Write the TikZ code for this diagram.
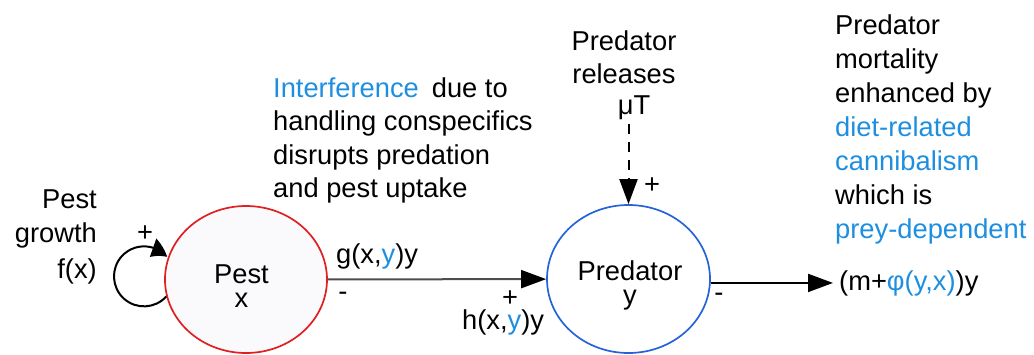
\documentclass[tikz,border=0pt]{standalone}
\usepackage{fontspec}
\setmainfont{Liberation Sans}
\usetikzlibrary{arrows.meta,shapes.geometric,bending}
\definecolor{tblue}{HTML}{1E8FE0}
\definecolor{predblue}{HTML}{2563D8}
\definecolor{pestred}{HTML}{E02020}
\definecolor{linegray}{HTML}{4D4D4D}
\definecolor{pestfill}{HTML}{FAFAFC}
\newcommand\tstrut{\rule{0pt}{24pt}}
\begin{document}
\begin{tikzpicture}[x=1pt,y=1pt,
  every node/.style={font=\fontsize{27.3}{34}\selectfont, inner sep=0pt},
  txt/.style={align=left, anchor=north west},
  pop/.style={ellipse, draw, line width=1.7pt, minimum width=162pt, minimum height=147pt},
  arr/.style={line width=2pt, -{Triangle[length=25pt,width=18pt,color=black]}},
  sign/.style={anchor=base},
]
\useasboundingbox (0,0) rectangle (1034,-354);

% populations
\node[pop, draw=pestred, fill=pestfill] (pest) at (246,-279.5) {};
\node[pop, draw=predblue, minimum width=163pt, minimum height=148pt] (pred) at (628.5,-279) {};
\node[align=center, anchor=north, font=\fontsize{27.3}{24}\selectfont] (pestlbl) at (241.5,-259) {\tstrut Pest\\x};
\node[align=center, anchor=north, font=\fontsize{27.3}{24}\selectfont] (predlbl) at (630,-256) {\tstrut Predator\\y};

% pest growth
\node[align=right, anchor=north east] (growth) at (97,-184) {\tstrut Pest\\growth};
\node[anchor=base east] (fx) at (97,-278) {f(x)};
\draw[line width=2pt, -{Triangle[length=17pt,width=19pt,bend]}] (pest.192) arc[start angle=-42, end angle=-320, radius=30];
\node[sign] (plusloop) at (145,-241) {+};

% interference text
\node[txt, font=\fontsize{27.3}{33.5}\selectfont] (interf) at (273,-73)
  {\tstrut\textcolor{tblue}{Interference}\hspace{13pt}due to\\handling conspecifics\\disrupts predation\\and pest uptake};

% predation arrow
\draw[arr, draw=linegray] (pest) -- (pred);
\node[anchor=base west] (glbl) at (336,-263) {g(x,\textcolor{tblue}{y})y};
\node[anchor=base west] (hlbl) at (462,-329) {h(x,\textcolor{tblue}{y})y};
\node[sign] (minusg) at (343,-300) {-};
\node[sign] (plush) at (510,-306) {+};

% releases
\node[align=center, anchor=north, font=\fontsize{27.3}{33}\selectfont] (rel) at (624,-26) {\tstrut Predator\\releases};
\node[anchor=base] (mu) at (634,-114) {μT};
\draw[arr, dash pattern=on 10pt off 8pt] ([yshift=-5pt]pred.north |- mu.south) -- (pred.north);
\node[sign] (plusrel) at (652,-193) {+};

% mortality
\node[txt] (mort) at (835,-10)
  {\tstrut Predator\\mortality\\enhanced by\\\textcolor{tblue}{diet-related}\\\textcolor{tblue}{cannibalism}\\which is\\\textcolor{tblue}{prey-dependent}};
\node[anchor=base west, inner xsep=6pt] (mphi) at (833,-290) {(m+\textcolor{tblue}{φ(y,x)})y};
\draw[arr] (pred.east |- mphi.west) -- (mphi.west);
\node[sign] (minusm) at (719,-301) {-};
\end{tikzpicture}
\end{document}
